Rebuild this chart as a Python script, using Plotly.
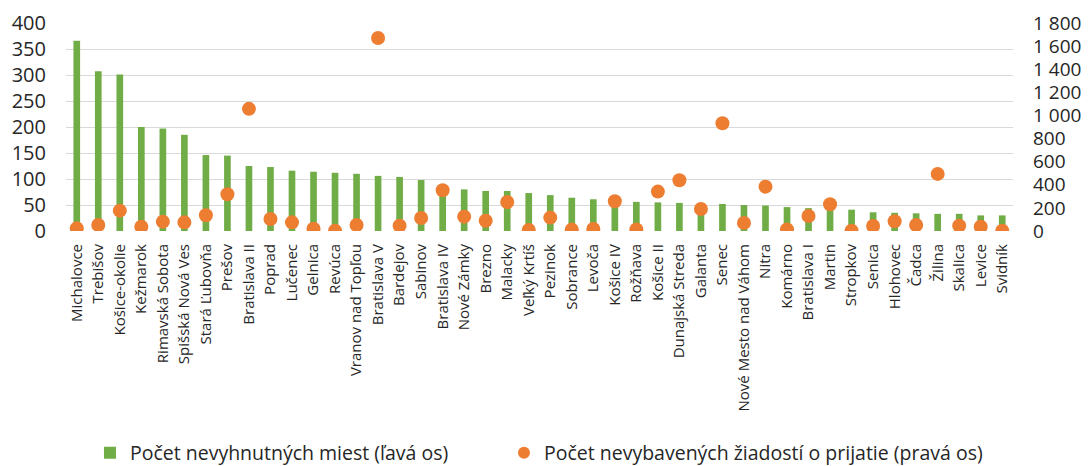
import plotly.graph_objects as go

categories = ["Michalovce", "Trebišov", "Košice-okolie", "Kežmarok", "Rimavská Sobota",
              "Spišská Nová Ves", "Stará Ľubovňa", "Prešov", "Bratislava II", "Poprad",
              "Lučenec", "Gelnica", "Revúca", "Vranov nad Topľou", "Bratislava V",
              "Bardejov", "Sabinov", "Bratislava IV", "Nové Zámky", "Brezno", "Malacky",
              "Veľký Krtíš", "Pezinok", "Sobrance", "Levoča", "Košice IV", "Rožňava",
              "Košice II", "Dunajská Streda", "Galanta", "Senec", "Nové Mesto nad Váhom",
              "Nitra", "Komárno", "Bratislava I", "Martin", "Stropkov", "Senica",
              "Hlohovec", "Čadca", "Žilina", "Skalica", "Levice", "Svidník"]

miesta = [366, 307, 301, 200, 197, 185, 146, 145, 125, 123,
          116, 114, 112, 110, 106, 104, 98, 85, 80, 77, 77,
          73, 69, 64, 61, 59, 56, 55, 54, 53, 52, 50,
          49, 46, 44, 43, 41, 36, 35, 34, 33, 33, 30, 30]

ziadosti = [23, 52, 176, 37, 81, 75, 136, 318, 1057, 104,
            75, 20, 3, 52, 1670, 46, 113, 353, 124, 89, 251,
            9, 116, 12, 17, 257, 14, 341, 439, 191, 933, 70,
            384, 14, 130, 231, 3, 43, 85, 52, 494, 46, 37, 3]

left_ticks = list(range(0, 401, 50))
right_ticks = list(range(0, 1801, 200))
right_ticktext = [f"{v:,}".replace(",", " ") for v in right_ticks]

FONT = "Open Sans"
GREEN = "#70AD47"
ORANGE = "#ED7D31"
TXT = "#262626"

fig = go.Figure()
fig.add_trace(go.Bar(
    x=categories, y=miesta, name="Počet nevyhnutných miest (ľavá os)",
    marker=dict(color=GREEN, line=dict(width=0)), width=0.31, yaxis="y",
    legend="legend",
))
fig.add_trace(go.Scatter(
    x=categories, y=ziadosti, name="Počet nevybavených žiadostí o prijatie (pravá os)",
    mode="markers", marker=dict(color=ORANGE, size=14, line=dict(width=0)), yaxis="y2",
    legend="legend2",
))

legend_common = dict(orientation="h", xanchor="left", y=-1.068, yanchor="middle",
                     font=dict(size=19.5, color=TXT), itemsizing="constant",
                     bgcolor="rgba(0,0,0,0)")

fig.update_layout(
    width=1090, height=466,
    margin=dict(l=66, r=77, t=23, b=235, autoexpand=False),
    paper_bgcolor="white", plot_bgcolor="white",
    font=dict(family=FONT, color=TXT),
    showlegend=True,
    legend=dict(x=0.0253, **legend_common),
    legend2=dict(x=0.4625, **legend_common),
    xaxis=dict(type="category", range=[-0.5, len(categories) - 0.5], tickangle=-90,
               tickfont=dict(size=15, color=TXT),
               showgrid=False, showline=False, ticks="", automargin=False,
               ticklabelstandoff=9),
    yaxis=dict(range=[0, 400], tickvals=left_ticks, showgrid=True, gridcolor="#D9D9D9",
               gridwidth=1.3, zeroline=False, showline=False, ticks="",
               tickfont=dict(size=20, color=TXT), automargin=False,
               ticklabelstandoff=19),
    yaxis2=dict(range=[0, 1800], tickvals=right_ticks, ticktext=right_ticktext,
                overlaying="y", side="right", showgrid=False, zeroline=False,
                showline=False, ticks="", tickfont=dict(size=19, color=TXT),
                automargin=False, ticklabelstandoff=19),
    bargap=0.69,
)

fig.write_html("out.html", config={"displayModeBar": False},
               post_script="document.body.style.margin='0';")
